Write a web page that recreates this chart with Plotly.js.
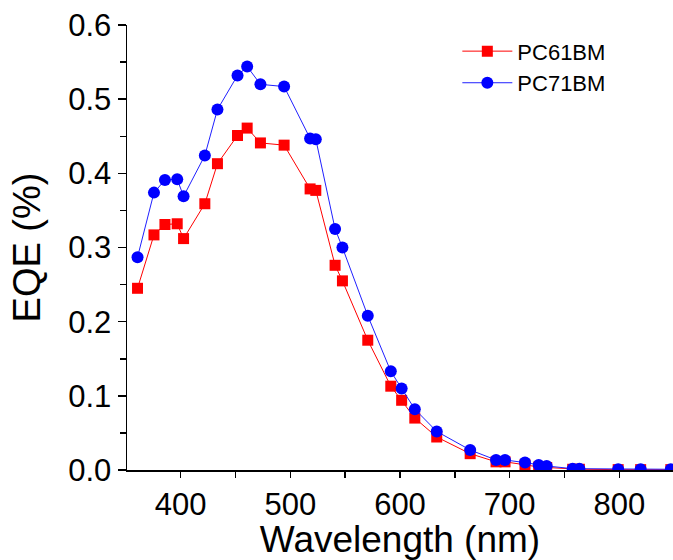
<!DOCTYPE html>
<html>
<head>
<meta charset="utf-8">
<script src="https://cdn.plot.ly/plotly-3.0.1.min.js"></script>
<style>html,body{margin:0;padding:0;background:#fff;}#chart{width:673px;height:560px;}</style>
</head>
<body>
<div id="chart"></div>
<script>
const wavelength = [360.6, 375.6, 385.6, 396.8, 402.6, 422, 433.5, 451.8, 460.6, 472.7, 494.3, 518, 523.2, 540.8, 547.5, 570.6, 591.6, 601.5, 613.5, 633.5, 664, 687.6, 695.8, 714, 726.5, 733.8, 757.5, 763.6, 799, 819.5, 847];
const pc61bm = [0.245, 0.317, 0.331, 0.332, 0.312, 0.359, 0.413, 0.451, 0.461, 0.441, 0.438, 0.379, 0.377, 0.276, 0.255, 0.175, 0.113, 0.094, 0.070, 0.0445, 0.022, 0.011, 0.011, 0.007, 0.004, 0.0034, 0.001, 0.001, 0.0005, 0.0005, 0.0005];
const pc71bm = [0.287, 0.374, 0.391, 0.392, 0.369, 0.424, 0.486, 0.532, 0.544, 0.520, 0.517, 0.447, 0.446, 0.325, 0.300, 0.208, 0.133, 0.110, 0.082, 0.052, 0.027, 0.0135, 0.0135, 0.010, 0.0067, 0.0054, 0.0018, 0.0018, 0.001, 0.001, 0.001];
const seriesNames = ['PC61BM', 'PC71BM'];

const font = 'Liberation Sans, Arial, sans-serif';
const traces = [
  {x: wavelength, y: pc61bm, name: seriesNames[0], mode: 'lines+markers', type: 'scatter',
   line: {color: '#ff0000', width: 1}, marker: {symbol: 'square', size: 11, color: '#ff0000'}},
  {x: wavelength, y: pc71bm, name: seriesNames[1], mode: 'lines+markers', type: 'scatter',
   line: {color: '#2020ff', width: 1}, marker: {symbol: 'circle', size: 12, color: '#0000ff'}}
];
const layout = {
  width: 673, height: 560,
  margin: {l: 127, r: 0, t: 25, b: 90},
  paper_bgcolor: '#fff', plot_bgcolor: '#fff',
  font: {family: font, color: '#000'},
  showlegend: true,
  legend: {x: 0.605, y: 0.988, xanchor: 'left', yanchor: 'top', bgcolor: 'rgba(0,0,0,0)',
    font: {size: 22, family: font, color: '#000'}, itemwidth: 50, tracegroupgap: 0},
  xaxis: {
    range: [351, 849], showgrid: false, zeroline: false,
    showline: true, linecolor: '#000', linewidth: 1.5,
    ticks: 'outside', ticklen: 6, tickwidth: 1.5, tickcolor: '#000',
    tickvals: [400, 500, 600, 700, 800],
    tickfont: {size: 31, family: font},
    minor: {tickvals: [350, 450, 550, 650, 750, 850], ticks: 'outside', ticklen: 6, tickwidth: 1.5, tickcolor: '#000'},
    title: {text: 'Wavelength (nm)', font: {size: 37, family: font}, standoff: 4}
  },
  yaxis: {
    range: [0, 0.6], showgrid: false, zeroline: false,
    showline: true, linecolor: '#000', linewidth: 1.5,
    ticks: 'outside', ticklen: 8, tickwidth: 1.5, tickcolor: '#000',
    tickvals: [0, 0.1, 0.2, 0.3, 0.4, 0.5, 0.6],
    ticktext: ['0.0', '0.1', '0.2', '0.3', '0.4', '0.5', '0.6'],
    tickfont: {size: 31, family: font},
    minor: {tickvals: [0.05, 0.15, 0.25, 0.35, 0.45, 0.55], ticks: 'outside', ticklen: 6, tickwidth: 1.5, tickcolor: '#000'},
    title: {text: 'EQE (%)', font: {size: 38, family: font}, standoff: 16}
  }
};
Plotly.newPlot('chart', traces, layout, {displayModeBar: false, staticPlot: true});
</script>
</body>
</html>
